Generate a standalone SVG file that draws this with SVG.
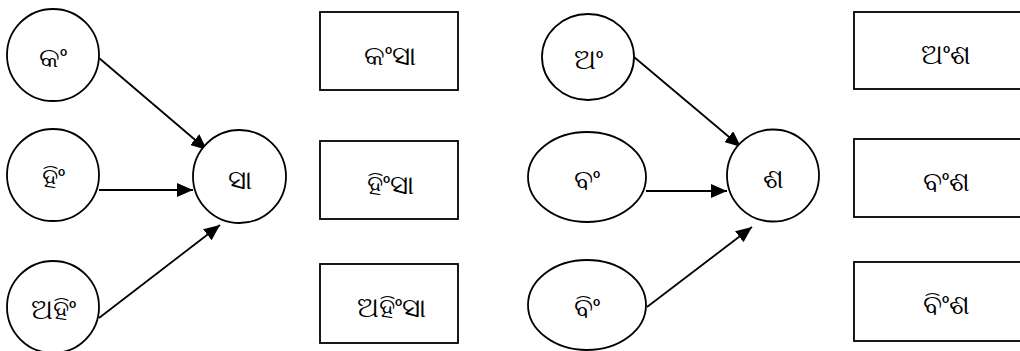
<svg xmlns="http://www.w3.org/2000/svg" width="1020" height="351" viewBox="0 0 1020 351">
<style>
.n{fill:#fff;stroke:#000;stroke-width:1.8}
.t{font-family:"Noto Sans","DejaVu Sans",sans-serif;font-size:28px;text-anchor:middle;fill:#000}
.c{stroke:#000;stroke-width:1.8;fill:none;marker-end:url(#ah)}
</style>
<defs>
<marker id="ah" markerUnits="userSpaceOnUse" markerWidth="16" markerHeight="14" refX="16" refY="7" orient="auto">
<path d="M0,0 L16,7 L0,14 z" fill="#000"/>
</marker>
</defs>
<rect width="1020" height="351" fill="#fff"/>
<g id="connectors">
<line class="c" x1="99" y1="58" x2="207" y2="150"/>
<line class="c" x1="99" y1="190" x2="193" y2="190"/>
<line class="c" x1="99" y1="318" x2="220" y2="225"/>
<line class="c" x1="634" y1="57" x2="741" y2="147"/>
<line class="c" x1="646" y1="191" x2="727" y2="191"/>
<line class="c" x1="647" y1="307" x2="752" y2="227"/>
</g>
<g id="n-kam"><circle class="n" cx="53" cy="55" r="46"/><text class="t" x="53" y="67">କଂ</text></g>
<g id="n-him"><circle class="n" cx="53" cy="175" r="46"/><text class="t" x="53" y="187">ହିଂ</text></g>
<g id="n-ahim"><circle class="n" cx="53" cy="307" r="46"/><text class="t" x="53" y="319">ଅହିଂ</text></g>
<g id="n-sa"><circle class="n" cx="239.5" cy="176.5" r="46.5"/><text class="t" x="240" y="189">ସା</text></g>
<g id="b-kamsa"><rect class="n" x="320" y="12" width="138" height="78"/><text class="t" x="390" y="65">କଂସା</text></g>
<g id="b-himsa"><rect class="n" x="320" y="141" width="138" height="78"/><text class="t" x="390" y="194">ହିଂସା</text></g>
<g id="b-ahimsa"><rect class="n" x="320" y="264" width="138" height="79"/><text class="t" x="391" y="317">ଅହିଂସା</text></g>
<g id="n-am"><ellipse class="n" cx="588" cy="57" rx="46" ry="43"/><text class="t" x="588" y="69">ଅଂ</text></g>
<g id="n-bam"><ellipse class="n" cx="587" cy="177" rx="59" ry="45"/><text class="t" x="587" y="189">ବଂ</text></g>
<g id="n-bim"><ellipse class="n" cx="587" cy="305" rx="59" ry="45"/><text class="t" x="587" y="317">ବିଂ</text></g>
<g id="n-sha"><circle class="n" cx="773" cy="175.5" r="46"/><text class="t" x="773" y="188">ଶ</text></g>
<g id="b-amsha"><rect class="n" x="854" y="12" width="184" height="77"/><text class="t" x="946" y="64">ଅଂଶ</text></g>
<g id="b-bamsha"><rect class="n" x="854" y="139" width="184" height="78"/><text class="t" x="946" y="191">ବଂଶ</text></g>
<g id="b-bimsha"><rect class="n" x="854" y="262" width="184" height="79"/><text class="t" x="946" y="314">ବିଂଶ</text></g>
</svg>
